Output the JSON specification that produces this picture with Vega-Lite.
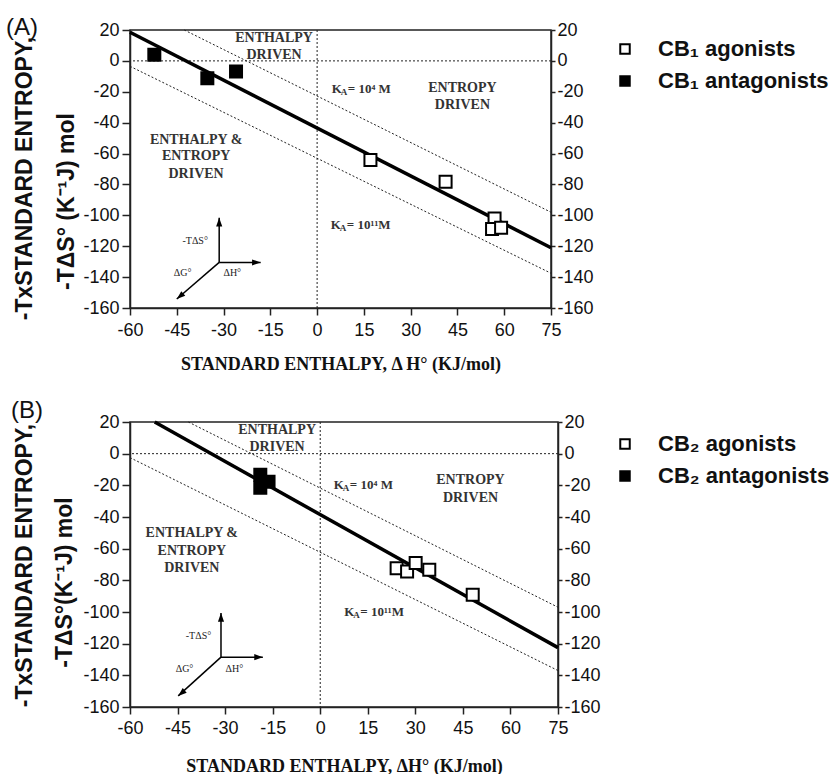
{
  "$schema": "https://vega.github.io/schema/vega-lite/v6.json",
  "padding": {"left": 5, "top": 15, "right": 0, "bottom": 0},
  "background": "white",
  "config": {
    "view": {"stroke": "#222", "strokeWidth": 1.5},
    "axis": {"grid": false, "domainColor": "#222", "domainWidth": 1.5, "tickColor": "#222", "tickWidth": 1.5, "labelColor": "#111", "titleColor": "#111", "labelFont": "Liberation Sans", "labelFontSize": 18, "labelOverlap": false, "labelFlush": false, "labelBound": false, "labelExpr": "replace(datum.label, '−', '-')"},
    "title": {"font": "Liberation Sans", "fontSize": 24, "fontWeight": "normal", "anchor": "start", "frame": "group", "color": "#111"},
    "text": {"font": "Liberation Serif", "fontWeight": "bold", "fill": "#333"}
  },
  "datasets": {
    "ptsA": [
      {"x": 17.1, "y": -64.2, "type": "CB₁ agonists"},
      {"x": 41.2, "y": -78.2, "type": "CB₁ agonists"},
      {"x": 56.9, "y": -102, "type": "CB₁ agonists"},
      {"x": 56.1, "y": -108.9, "type": "CB₁ agonists"},
      {"x": 59, "y": -108, "type": "CB₁ agonists"},
      {"x": -52.2, "y": 3.9, "type": "CB₁ antagonists"},
      {"x": -35.2, "y": -11.3, "type": "CB₁ antagonists"},
      {"x": -26, "y": -6.9, "type": "CB₁ antagonists"}
    ],
    "ptsB": [
      {"x": 24.1, "y": -72.3, "type": "CB₂ agonists"},
      {"x": 27.4, "y": -74.4, "type": "CB₂ agonists"},
      {"x": 30.1, "y": -69.1, "type": "CB₂ agonists"},
      {"x": 34.4, "y": -73.3, "type": "CB₂ agonists"},
      {"x": 48.1, "y": -89.1, "type": "CB₂ agonists"},
      {"x": -18.9, "y": -13.3, "type": "CB₂ antagonists"},
      {"x": -18.9, "y": -21.5, "type": "CB₂ antagonists"},
      {"x": -16.3, "y": -17.7, "type": "CB₂ antagonists"}
    ],
    "linesA": [
      {"line": "fit", "x": -60, "y": 18.5}, {"line": "fit", "x": 75, "y": -121},
      {"line": "k4", "x": -42.6, "y": 20}, {"line": "k4", "x": 75, "y": -98},
      {"line": "k11", "x": -60, "y": -3.5}, {"line": "k11", "x": 75, "y": -137.5}
    ],
    "linesB": [
      {"line": "fit", "x": -52.2, "y": 20}, {"line": "fit", "x": 75, "y": -122.5},
      {"line": "k4", "x": -41.6, "y": 20}, {"line": "k4", "x": 75, "y": -97},
      {"line": "k11", "x": -60, "y": -2.5}, {"line": "k11", "x": 75, "y": -137}
    ],
    "zero": [{"v": 0}],
    "textA": [
      {"x": -13.8, "y": 14.5, "t": "ENTHALPY"}, {"x": -13.8, "y": 4.1, "t": "DRIVEN"},
      {"x": 46.6, "y": -17.3, "t": "ENTROPY"}, {"x": 46.6, "y": -28.4, "t": "DRIVEN"},
      {"x": -38.8, "y": -51, "t": "ENTHALPY &"}, {"x": -38.8, "y": -61.4, "t": "ENTROPY"}, {"x": -38.8, "y": -73, "t": "DRIVEN"}
    ],
    "textB": [
      {"x": -13.6, "y": 15.2, "t": "ENTHALPY"}, {"x": -13.6, "y": 4.4, "t": "DRIVEN"},
      {"x": 47.4, "y": -16.4, "t": "ENTROPY"}, {"x": 47.4, "y": -27.8, "t": "DRIVEN"},
      {"x": -40.5, "y": -49.9, "t": "ENTHALPY &"}, {"x": -40.5, "y": -61.3, "t": "ENTROPY"}, {"x": -40.5, "y": -72, "t": "DRIVEN"}
    ],
    "kaA": [{"x": 4.7, "y": -18, "rest": "= 10⁴ M"}, {"x": 4.4, "y": -106.1, "rest": "= 10¹¹M"}],
    "kaB": [{"x": 4.3, "y": -19.6, "rest": "= 10⁴ M"}, {"x": 7.6, "y": -99.9, "rest": "= 10¹¹M"}],
    "arrA": [
      {"x": -31.4, "y": -130.5, "x2": -31.4, "y2": -101.6, "dir": "up"},
      {"x": -31.4, "y": -130.5, "x2": -18.1, "y2": -130.5, "dir": "right"},
      {"x": -31.4, "y": -130.5, "x2": -45.0, "y2": -154.2, "dir": "dl"}
    ],
    "arrB": [
      {"x": -31.3, "y": -128.5, "x2": -31.3, "y2": -100.7, "dir": "up"},
      {"x": -31.3, "y": -128.5, "x2": -18.1, "y2": -128.5, "dir": "right"},
      {"x": -31.3, "y": -128.5, "x2": -44.8, "y2": -153, "dir": "dl"}
    ],
    "inA": [
      {"x": -39.1, "y": -116.7, "t": "-TΔS°"}, {"x": -43.1, "y": -137.6, "t": "ΔG°"}, {"x": -27.2, "y": -137.6, "t": "ΔH°"}
    ],
    "inB": [
      {"x": -38.4, "y": -115, "t": "-TΔS°"}, {"x": -42.8, "y": -136, "t": "ΔG°"}, {"x": -27.1, "y": -136, "t": "ΔH°"}
    ]
  },
  "resolve": {"scale": {"fill": "independent", "x": "independent", "y": "independent"}, "legend": {"fill": "independent"}},
  "spacing": 24,
  "vconcat": [
    {
      "width": 421, "height": 278,
      "title": {"text": "(A)", "dx": -124, "offset": -19},
      "resolve": {"axis": {"x": "independent", "y": "independent"}},
      "layer": [
        {
          "data": {"name": "linesA"},
          "transform": [{"filter": "datum.line != 'fit'"}],
          "mark": {"type": "line", "stroke": "#222", "strokeWidth": 1, "strokeDash": [2, 2]},
          "encoding": {
            "x": {"field": "x", "type": "quantitative", "scale": {"domain": [-60, 75], "nice": false, "zero": false}, "axis": null},
            "y": {"field": "y", "type": "quantitative", "scale": {"domain": [-160, 20], "nice": false, "zero": false},
              "axis": {"orient": "left", "labels": false, "ticks": false, "domain": false, "title": "-TxSTANDARD ENTROPY,", "titleFont": "Liberation Sans", "titleFontWeight": "bold", "titleFontSize": 23, "titleX": -99, "titleY": 148, "titleAngle": 270, "titleAlign": "center", "titleBaseline": "alphabetic"}},
            "detail": {"field": "line"}
          }
        },
        {
          "data": {"name": "zero"},
          "mark": {"type": "rule", "stroke": "#222", "strokeWidth": 1, "strokeDash": [2, 2]},
          "encoding": {"x": {"field": "v", "type": "quantitative", "scale": {"domain": [-60, 75], "nice": false, "zero": false}, "axis": null}}
        },
        {
          "data": {"name": "zero"},
          "mark": {"type": "rule", "stroke": "#222", "strokeWidth": 1, "strokeDash": [2, 2]},
          "encoding": {"y": {"field": "v", "type": "quantitative", "scale": {"domain": [-160, 20], "nice": false, "zero": false}, "axis": null}}
        },
        {
          "data": {"name": "linesA"},
          "transform": [{"filter": "datum.line == 'fit'"}],
          "mark": {"type": "line", "stroke": "black", "strokeWidth": 3.5},
          "encoding": {
            "x": {"field": "x", "type": "quantitative", "scale": {"domain": [-60, 75], "nice": false, "zero": false}, "axis": null},
            "y": {"field": "y", "type": "quantitative", "scale": {"domain": [-160, 20], "nice": false, "zero": false},
              "axis": {"orient": "right", "title": null, "values": [-160, -140, -120, -100, -80, -60, -40, -20, 0, 20], "tickSize": 4, "labelPadding": 2}}
          }
        },
        {
          "data": {"name": "textA"},
          "mark": {"type": "text", "fontSize": 14, "align": "center", "baseline": "middle"},
          "encoding": {
            "x": {"field": "x", "type": "quantitative", "scale": {"domain": [-60, 75], "nice": false, "zero": false}, "axis": null},
            "y": {"field": "y", "type": "quantitative", "scale": {"domain": [-160, 20], "nice": false, "zero": false}, "axis": null},
            "text": {"field": "t"}
          }
        },
        {
          "data": {"name": "kaA"},
          "mark": {"type": "text", "fontSize": 13, "align": "left", "baseline": "middle", "text": "K"},
          "encoding": {
            "x": {"field": "x", "type": "quantitative", "scale": {"domain": [-60, 75], "nice": false, "zero": false}, "axis": null},
            "y": {"field": "y", "type": "quantitative", "scale": {"domain": [-160, 20], "nice": false, "zero": false}, "axis": null}
          }
        },
        {
          "data": {"name": "kaA"},
          "mark": {"type": "text", "fontSize": 9, "align": "left", "baseline": "middle", "text": "A", "dx": 9, "dy": 3},
          "encoding": {
            "x": {"field": "x", "type": "quantitative", "scale": {"domain": [-60, 75], "nice": false, "zero": false}, "axis": null},
            "y": {"field": "y", "type": "quantitative", "scale": {"domain": [-160, 20], "nice": false, "zero": false}, "axis": null}
          }
        },
        {
          "data": {"name": "kaA"},
          "mark": {"type": "text", "fontSize": 13, "align": "left", "baseline": "middle", "dx": 16},
          "encoding": {
            "x": {"field": "x", "type": "quantitative", "scale": {"domain": [-60, 75], "nice": false, "zero": false}, "axis": null},
            "y": {"field": "y", "type": "quantitative", "scale": {"domain": [-160, 20], "nice": false, "zero": false}, "axis": null},
            "text": {"field": "rest"}
          }
        },
        {
          "data": {"name": "arrA"},
          "mark": {"type": "rule", "stroke": "black", "strokeWidth": 1.5},
          "encoding": {
            "x": {"field": "x", "type": "quantitative", "scale": {"domain": [-60, 75], "nice": false, "zero": false}, "axis": null},
            "y": {"field": "y", "type": "quantitative", "scale": {"domain": [-160, 20], "nice": false, "zero": false}, "axis": null},
            "x2": {"field": "x2"},
            "y2": {"field": "y2"}
          }
        },
        {
          "data": {"name": "arrA"},
          "mark": {"type": "point", "filled": true, "fill": "black", "stroke": null, "size": 150, "opacity": 1},
          "encoding": {
            "x": {"field": "x2", "type": "quantitative", "scale": {"domain": [-60, 75], "nice": false, "zero": false}, "axis": null},
            "y": {"field": "y2", "type": "quantitative", "scale": {"domain": [-160, 20], "nice": false, "zero": false}, "axis": null},
            "shape": {"field": "dir", "type": "nominal", "legend": null, "scale": {"domain": ["up", "right", "dl"], "range": ["M 0 0 L 0.5 1.4 L -0.5 1.4 Z", "M 0 0 L -1.4 0.5 L -1.4 -0.5 Z", "M 0 0 L 1.389 -0.531 L 0.737 -1.291 Z"]}}
          }
        },
        {
          "data": {"name": "inA"},
          "mark": {"type": "text", "fontSize": 10, "align": "center", "baseline": "middle", "fontWeight": "normal", "fill": "#222"},
          "encoding": {
            "x": {"field": "x", "type": "quantitative", "scale": {"domain": [-60, 75], "nice": false, "zero": false}, "axis": null},
            "y": {"field": "y", "type": "quantitative", "scale": {"domain": [-160, 20], "nice": false, "zero": false}, "axis": null},
            "text": {"field": "t"}
          }
        },
        {
          "data": {"name": "ptsA"},
          "mark": {"type": "point", "shape": "square", "filled": true, "size": 144, "stroke": "black", "strokeWidth": 2, "opacity": 1},
          "encoding": {
            "x": {"field": "x", "type": "quantitative", "scale": {"domain": [-60, 75], "nice": false, "zero": false},
              "axis": {"title": "STANDARD ENTHALPY, Δ H° (KJ/mol)", "values": [-60, -45, -30, -15, 0, 15, 30, 45, 60, 75], "titleFont": "Liberation Serif", "titleFontWeight": "bold", "titleFontSize": 18, "tickSize": 7, "labelPadding": 6, "titlePadding": 16}},
            "y": {"field": "y", "type": "quantitative", "scale": {"domain": [-160, 20], "nice": false, "zero": false},
              "axis": {"title": "-TΔS° (K⁻¹J) mol", "values": [-160, -140, -120, -100, -80, -60, -40, -20, 0, 20], "titleFont": "Liberation Sans", "titleFontWeight": "bold", "titleFontSize": 23, "titleX": -57, "titleY": 171, "titleAngle": 270, "titleAlign": "center", "titleBaseline": "alphabetic", "tickSize": 8, "labelPadding": 3}},
            "fill": {"field": "type", "type": "nominal",
              "scale": {"domain": ["CB₁ agonists", "CB₁ antagonists"], "range": ["white", "black"]},
              "legend": {"title": null, "orient": "none", "legendX": 484, "legendY": 8, "padding": 0, "symbolType": "square", "symbolSize": 90, "symbolStrokeColor": "black", "symbolStrokeWidth": 2, "symbolOpacity": 1, "labelFont": "Liberation Sans", "labelFontWeight": "bold", "labelFontSize": 22, "labelColor": "#111", "labelOffset": 22, "labelLimit": 400, "rowPadding": 10}}
          }
        }
      ]
    },
    {
      "width": 428, "height": 285,
      "title": {"text": "(B)", "dx": -119, "offset": -10},
      "resolve": {"axis": {"x": "independent", "y": "independent"}},
      "layer": [
        {
          "data": {"name": "linesB"},
          "transform": [{"filter": "datum.line != 'fit'"}],
          "mark": {"type": "line", "stroke": "#222", "strokeWidth": 1, "strokeDash": [2, 2]},
          "encoding": {
            "x": {"field": "x", "type": "quantitative", "scale": {"domain": [-60, 75], "nice": false, "zero": false}, "axis": null},
            "y": {"field": "y", "type": "quantitative", "scale": {"domain": [-160, 20], "nice": false, "zero": false},
              "axis": {"orient": "left", "labels": false, "ticks": false, "domain": false, "title": "-TxSTANDARD ENTROPY,", "titleFont": "Liberation Sans", "titleFontWeight": "bold", "titleFontSize": 23, "titleX": -99, "titleY": 143, "titleAngle": 270, "titleAlign": "center", "titleBaseline": "alphabetic"}},
            "detail": {"field": "line"}
          }
        },
        {
          "data": {"name": "zero"},
          "mark": {"type": "rule", "stroke": "#222", "strokeWidth": 1, "strokeDash": [2, 2]},
          "encoding": {"x": {"field": "v", "type": "quantitative", "scale": {"domain": [-60, 75], "nice": false, "zero": false}, "axis": null}}
        },
        {
          "data": {"name": "zero"},
          "mark": {"type": "rule", "stroke": "#222", "strokeWidth": 1, "strokeDash": [2, 2]},
          "encoding": {"y": {"field": "v", "type": "quantitative", "scale": {"domain": [-160, 20], "nice": false, "zero": false}, "axis": null}}
        },
        {
          "data": {"name": "linesB"},
          "transform": [{"filter": "datum.line == 'fit'"}],
          "mark": {"type": "line", "stroke": "black", "strokeWidth": 3.5},
          "encoding": {
            "x": {"field": "x", "type": "quantitative", "scale": {"domain": [-60, 75], "nice": false, "zero": false}, "axis": null},
            "y": {"field": "y", "type": "quantitative", "scale": {"domain": [-160, 20], "nice": false, "zero": false},
              "axis": {"orient": "right", "title": null, "values": [-160, -140, -120, -100, -80, -60, -40, -20, 0, 20], "tickSize": 4, "labelPadding": 2}}
          }
        },
        {
          "data": {"name": "textB"},
          "mark": {"type": "text", "fontSize": 14, "align": "center", "baseline": "middle"},
          "encoding": {
            "x": {"field": "x", "type": "quantitative", "scale": {"domain": [-60, 75], "nice": false, "zero": false}, "axis": null},
            "y": {"field": "y", "type": "quantitative", "scale": {"domain": [-160, 20], "nice": false, "zero": false}, "axis": null},
            "text": {"field": "t"}
          }
        },
        {
          "data": {"name": "kaB"},
          "mark": {"type": "text", "fontSize": 13, "align": "left", "baseline": "middle", "text": "K"},
          "encoding": {
            "x": {"field": "x", "type": "quantitative", "scale": {"domain": [-60, 75], "nice": false, "zero": false}, "axis": null},
            "y": {"field": "y", "type": "quantitative", "scale": {"domain": [-160, 20], "nice": false, "zero": false}, "axis": null}
          }
        },
        {
          "data": {"name": "kaB"},
          "mark": {"type": "text", "fontSize": 9, "align": "left", "baseline": "middle", "text": "A", "dx": 9, "dy": 3},
          "encoding": {
            "x": {"field": "x", "type": "quantitative", "scale": {"domain": [-60, 75], "nice": false, "zero": false}, "axis": null},
            "y": {"field": "y", "type": "quantitative", "scale": {"domain": [-160, 20], "nice": false, "zero": false}, "axis": null}
          }
        },
        {
          "data": {"name": "kaB"},
          "mark": {"type": "text", "fontSize": 13, "align": "left", "baseline": "middle", "dx": 16},
          "encoding": {
            "x": {"field": "x", "type": "quantitative", "scale": {"domain": [-60, 75], "nice": false, "zero": false}, "axis": null},
            "y": {"field": "y", "type": "quantitative", "scale": {"domain": [-160, 20], "nice": false, "zero": false}, "axis": null},
            "text": {"field": "rest"}
          }
        },
        {
          "data": {"name": "arrB"},
          "mark": {"type": "rule", "stroke": "black", "strokeWidth": 1.5},
          "encoding": {
            "x": {"field": "x", "type": "quantitative", "scale": {"domain": [-60, 75], "nice": false, "zero": false}, "axis": null},
            "y": {"field": "y", "type": "quantitative", "scale": {"domain": [-160, 20], "nice": false, "zero": false}, "axis": null},
            "x2": {"field": "x2"},
            "y2": {"field": "y2"}
          }
        },
        {
          "data": {"name": "arrB"},
          "mark": {"type": "point", "filled": true, "fill": "black", "stroke": null, "size": 150, "opacity": 1},
          "encoding": {
            "x": {"field": "x2", "type": "quantitative", "scale": {"domain": [-60, 75], "nice": false, "zero": false}, "axis": null},
            "y": {"field": "y2", "type": "quantitative", "scale": {"domain": [-160, 20], "nice": false, "zero": false}, "axis": null},
            "shape": {"field": "dir", "type": "nominal", "legend": null, "scale": {"domain": ["up", "right", "dl"], "range": ["M 0 0 L 0.5 1.4 L -0.5 1.4 Z", "M 0 0 L -1.4 0.5 L -1.4 -0.5 Z", "M 0 0 L 1.389 -0.531 L 0.737 -1.291 Z"]}}
          }
        },
        {
          "data": {"name": "inB"},
          "mark": {"type": "text", "fontSize": 10, "align": "center", "baseline": "middle", "fontWeight": "normal", "fill": "#222"},
          "encoding": {
            "x": {"field": "x", "type": "quantitative", "scale": {"domain": [-60, 75], "nice": false, "zero": false}, "axis": null},
            "y": {"field": "y", "type": "quantitative", "scale": {"domain": [-160, 20], "nice": false, "zero": false}, "axis": null},
            "text": {"field": "t"}
          }
        },
        {
          "data": {"name": "ptsB"},
          "mark": {"type": "point", "shape": "square", "filled": true, "size": 144, "stroke": "black", "strokeWidth": 2, "opacity": 1},
          "encoding": {
            "x": {"field": "x", "type": "quantitative", "scale": {"domain": [-60, 75], "nice": false, "zero": false},
              "axis": {"title": "STANDARD ENTHALPY, ΔH° (KJ/mol)", "values": [-60, -45, -30, -15, 0, 15, 30, 45, 60, 75], "titleFont": "Liberation Serif", "titleFontWeight": "bold", "titleFontSize": 18, "tickSize": 7, "labelPadding": 5, "titlePadding": 20}},
            "y": {"field": "y", "type": "quantitative", "scale": {"domain": [-160, 20], "nice": false, "zero": false},
              "axis": {"title": "-TΔS°(K⁻¹J) mol", "values": [-160, -140, -120, -100, -80, -60, -40, -20, 0, 20], "titleFont": "Liberation Sans", "titleFontWeight": "bold", "titleFontSize": 23, "titleX": -59, "titleY": 160, "titleAngle": 270, "titleAlign": "center", "titleBaseline": "alphabetic", "tickSize": 8, "labelPadding": 3}},
            "fill": {"field": "type", "type": "nominal",
              "scale": {"domain": ["CB₂ agonists", "CB₂ antagonists"], "range": ["white", "black"]},
              "legend": {"title": null, "orient": "none", "legendX": 484, "legendY": 11, "padding": 0, "symbolType": "square", "symbolSize": 90, "symbolStrokeColor": "black", "symbolStrokeWidth": 2, "symbolOpacity": 1, "labelFont": "Liberation Sans", "labelFontWeight": "bold", "labelFontSize": 22, "labelColor": "#111", "labelOffset": 22, "labelLimit": 400, "rowPadding": 10}}
          }
        }
      ]
    }
  ]
}
